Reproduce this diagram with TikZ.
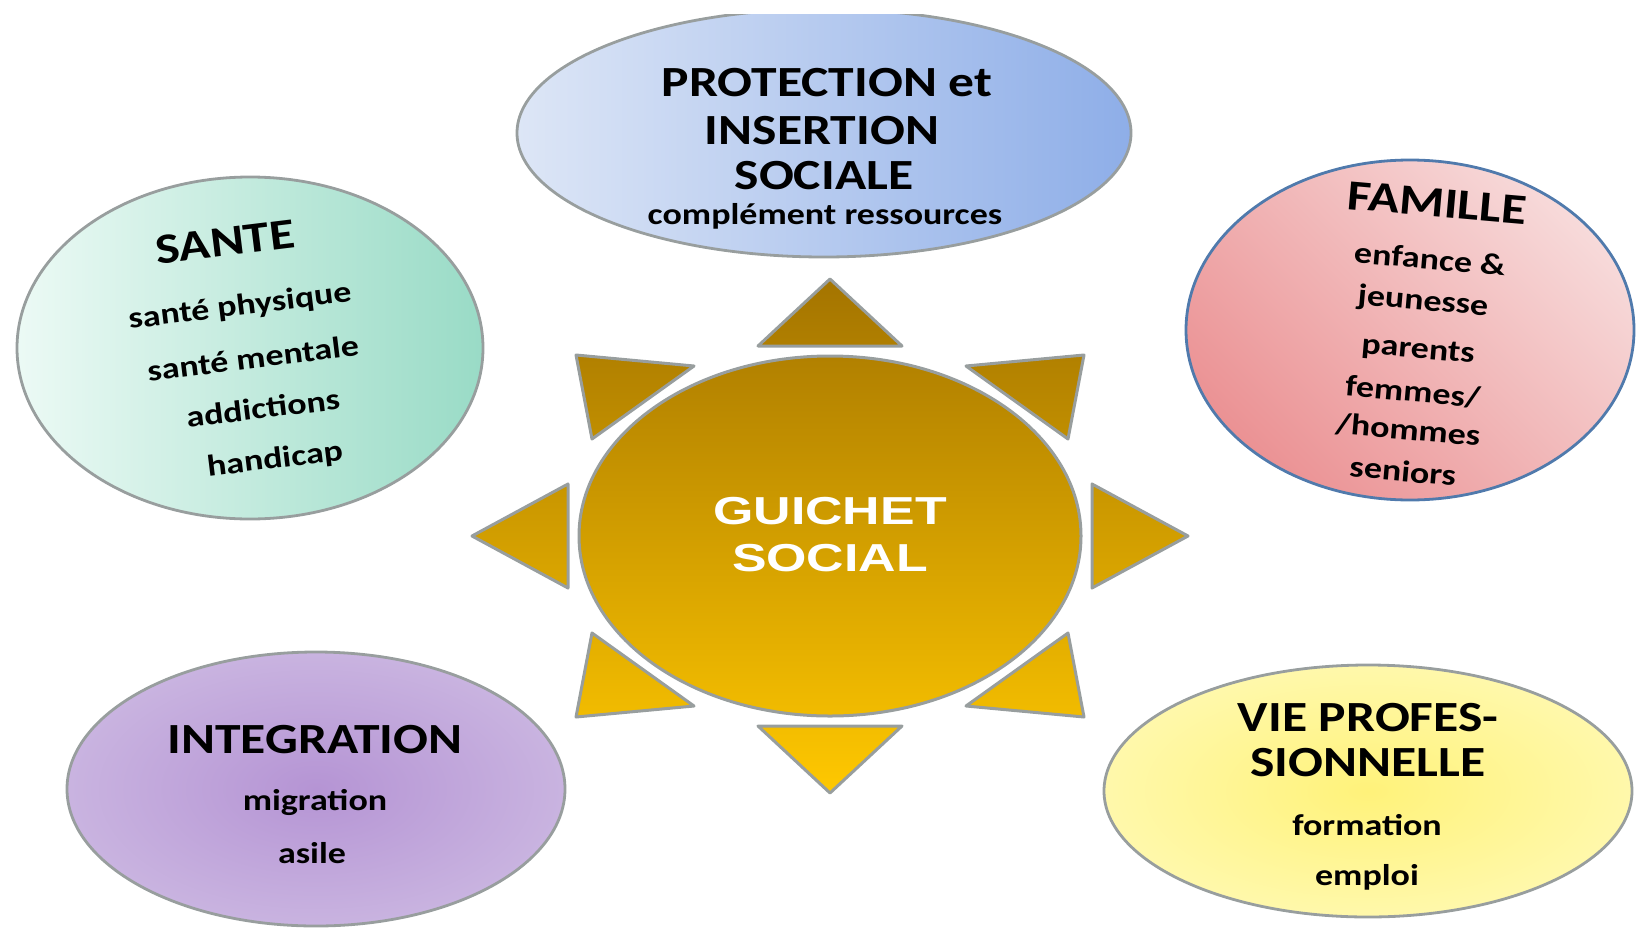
\documentclass[tikz,border=0pt]{standalone}
\usepackage{fontspec}
\setmainfont{Carlito}[FakeStretch=1.2]
\newfontfamily\sunfont{Liberation Sans}[FakeStretch=1.33]

% colours of the picture
\definecolor{rimgray}{RGB}{152,158,158}
\definecolor{rimblue}{RGB}{80,122,172}
\definecolor{protL}{RGB}{221,230,246}
\definecolor{protR}{RGB}{142,174,232}
\definecolor{santeL}{RGB}{236,250,245}
\definecolor{santeR}{RGB}{153,219,198}
\definecolor{famB}{RGB}{235,146,148}
\definecolor{famT}{RGB}{247,218,218}
\definecolor{integIn}{RGB}{181,148,212}
\definecolor{integOut}{RGB}{221,211,236}
\definecolor{vieIn}{RGB}{255,242,122}
\definecolor{vieOut}{RGB}{255,255,220}
\definecolor{sunT}{RGB}{164,116,0}
\definecolor{sunM}{RGB}{222,164,0}
\definecolor{sunB}{RGB}{255,200,0}

% soft radial fill, colours set per bubble
\colorlet{glowin}{white}
\colorlet{glowout}{white}
\pgfdeclareradialshading[glowin,glowout]{glow}{\pgfpointorigin}{color(0bp)=(glowin); color(50bp)=(glowout)}

\tikzset{
  bubble/.style={draw=rimgray, line width=1.4pt},
  softglow/.style 2 args={shading=glow, /utils/exec={\colorlet{glowin}{#1}\colorlet{glowout}{#2}}},
  sunrim/.style={draw=rimgray, line width=1.5pt, line join=round},
  title/.style={font=\bfseries\fontsize{21.5}{24}\selectfont, inner sep=0pt},
  item/.style={font=\bfseries\fontsize{15}{18}\selectfont, inner sep=0pt},
  guichet/.style={font=\sunfont\bfseries\fontsize{19.5}{22}\selectfont, text=white, inner sep=0pt}
}

\begin{document}
\begin{tikzpicture}[x=0.5pt,y=-0.5pt]
    \useasboundingbox (0,0) rectangle (1636,931);

    % Define the centres
    \coordinate (P) at (824,133);   % protection
    \coordinate (S) at (250,348);   % sante
    \coordinate (F) at (1410,330);  % famille
    \coordinate (I) at (316,789);   % integration
    \coordinate (V) at (1368,791);  % vie professionnelle
    \coordinate (G) at (830,536);   % guichet

    % Draw the bubbles
    \begin{scope}
      \clip (0,15) rectangle (1636,931);
      \shadedraw[bubble, left color=protL, right color=protR] (P) ellipse [x radius=307, y radius=124];
    \end{scope}
    \shadedraw[bubble, left color=santeL, right color=santeR] (S) ellipse [x radius=233, y radius=171];
    \shadedraw[bubble, draw=rimblue, bottom color=famB, top color=famT, shading angle=-45] (F) ellipse [x radius=224, y radius=170];
    \shadedraw[bubble, softglow={integIn}{integOut}] (I) ellipse [x radius=249, y radius=137];
    \shadedraw[bubble, softglow={vieIn}{vieOut}] (V) ellipse [x radius=264, y radius=126];

    % Draw the sun
    \begin{scope}[shift={(G)}]
      \shadedraw[sunrim, top color=sunT, middle color=sunM, bottom color=sunB]
        (0,0) ellipse [x radius=251, y radius=180]
        (0,-257) -- (-72,-190) -- (72,-190) -- cycle
        (0,257) -- (-72,190) -- (72,190) -- cycle
        (-358,0) -- (-262,-52) -- (-262,52) -- cycle
        (358,0) -- (262,-52) -- (262,52) -- cycle
        (-254,-181) -- (-136,-170) -- (-238,-97) -- cycle
        (254,-181) -- (136,-170) -- (238,-97) -- cycle
        (-254,181) -- (-136,170) -- (-238,97) -- cycle
        (254,181) -- (136,170) -- (238,97) -- cycle;
    \end{scope}
    \node[guichet] (guiA) at (830,511) {GUICHET};
    \node[guichet] (guiB) at (830,558) {SOCIAL};

    % Label the protection bubble
    \node[title] (protA) at (827,83) {PROTECTION et};
    \node[title] (protB) at (822,131) {INSERTION};
    \node[title] (protC) at (824,176) {SOCIALE};
    \node[item] (protD) at (825,216) {complément ressources};

    % Label the sante bubble
    \node[title, rotate=7] (santeA) at (225,242) {SANTE};
    \node[item, rotate=7] (santeB) at (240,307) {santé physique};
    \node[item, rotate=7] (santeC) at (253,358) {santé mentale};
    \node[item, rotate=7] (santeD) at (263,408) {addictions};
    \node[item, rotate=7] (santeE) at (275,460) {handicap};

    % Label the famille bubble
    \node[title, rotate=-5] (famA) at (1437,203) {FAMILLE};
    \node[item, rotate=-5] (famB) at (1430,259) {enfance \&};
    \node[item, rotate=-5] (famC) at (1423,302) {jeunesse};
    \node[item, rotate=-5] (famD) at (1418,351) {parents};
    \node[item, rotate=-5] (famE) at (1413,392) {femmes/};
    \node[item, rotate=-5] (famF) at (1408,430) {/hommes};
    \node[item, rotate=-5] (famG) at (1403,471) {seniors};

    % Label the integration bubble
    \node[title] (integA) at (315,740) {INTEGRATION};
    \node[item] (integB) at (315,802) {migration};
    \node[item] (integC) at (312,853) {asile};

    % Label the vie professionnelle bubble
    \node[title] (vieA) at (1368,718) {VIE PROFES-};
    \node[title] (vieB) at (1368,763) {SIONNELLE};
    \node[item] (vieC) at (1367,825) {formation};
    \node[item] (vieD) at (1367,877) {emploi};
\end{tikzpicture}
\end{document}
